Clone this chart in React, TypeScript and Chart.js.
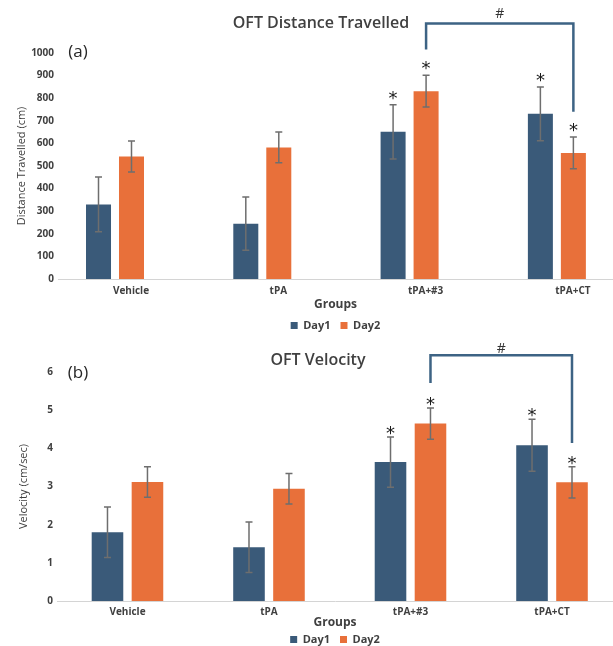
import React, { useEffect, useRef } from "react";
import { Chart, registerables } from "chart.js";

Chart.register(...registerables);

// ---------- data ----------
const groups = ["Vehicle", "tPA", "tPA+#3", "tPA+CT"];
const seriesNames = ["Day1", "Day2"];

const distanceDay1 = [330, 245, 651, 731];
const distanceDay2 = [542, 582, 831, 558];
const distanceErrDay1 = [121, 118, 120, 119];
const distanceErrDay2 = [69, 68, 70, 70];

const velocityDay1 = [1.8, 1.41, 3.64, 4.08];
const velocityDay2 = [3.12, 2.94, 4.65, 3.11];
const velocityErrDay1 = [0.66, 0.66, 0.66, 0.68];
const velocityErrDay2 = [0.4, 0.4, 0.41, 0.41];

// significance markers (*) per series
const starsDay1 = [false, false, true, true];
const starsDay2 = [false, false, true, true];

// "#" bracket between tPA+#3 Day2 and tPA+CT Day2 (in data units)
const distanceBracket = { from: 2, to: 3, top: 1130, leftEnd: 1015, rightEnd: 740, label: "#" };
const velocityBracket = { from: 2, to: 3, top: 6.44, leftEnd: 5.71, rightEnd: 4.14, label: "#" };

// ---------- styles ----------
const DAY1 = "#3A5A79";
const DAY2 = "#E8703A";
const ERR = "#6E6E6E";
const BRACKET = "#3D6384";
const FONT = "'Open Sans', 'DejaVu Sans', sans-serif";

type Bracket = typeof distanceBracket;

type PanelProps = {
  top: number;
  height: number;
  title: string;
  titleX: number;
  titleY: number;
  tag: string;
  tagX: number;
  tagY: number;
  yTitle: string;
  yMax: number;
  yStep: number;
  day1: number[];
  day2: number[];
  err1: number[];
  err2: number[];
  bracket: Bracket;
  padTop: number;
  yAxisWidth: number;
  xAxisHeight: number;
  xMin: number;
  xMax: number;
  catPct: number;
  barPct: number;
  tickPad: number;
  labelOffset: number;
  groupsPadBottom: number;
  yTitlePad: number;
  starGap: number;
  hashGap: number;
};

function Panel(p: PanelProps) {
  const ref = useRef<HTMLCanvasElement | null>(null);

  useEffect(() => {
    if (!ref.current) return;

    const annot = {
      id: "annot",
      afterDatasetsDraw(chart: any) {
        const ctx = chart.ctx as CanvasRenderingContext2D;
        const ys = chart.scales.y;
        const vals = [p.day1, p.day2];
        const errs = [p.err1, p.err2];
        const stars = [starsDay1, starsDay2];
        ctx.save();
        for (let d = 0; d < 2; d++) {
          const meta = chart.getDatasetMeta(d);
          meta.data.forEach((el: any, i: number) => {
            const v = vals[d][i];
            const e = errs[d][i];
            const x = el.x;
            const yT = ys.getPixelForValue(v + e);
            const yB = ys.getPixelForValue(v - e);
            ctx.strokeStyle = ERR;
            ctx.lineWidth = 1.5;
            ctx.beginPath();
            ctx.moveTo(x, yT);
            ctx.lineTo(x, yB);
            ctx.moveTo(x - 3.5, yT);
            ctx.lineTo(x + 3.5, yT);
            ctx.moveTo(x - 3.5, yB);
            ctx.lineTo(x + 3.5, yB);
            ctx.stroke();
            if (stars[d][i]) {
              ctx.fillStyle = "#1a1a1a";
              ctx.font = "18px 'DejaVu Sans', sans-serif";
              ctx.textAlign = "center";
              ctx.textBaseline = "alphabetic";
              ctx.fillText("*", x, yT - p.starGap + 10);
            }
          });
        }
        // bracket
        const b = p.bracket;
        const m1 = chart.getDatasetMeta(1);
        const x1 = m1.data[b.from].x;
        const x2 = m1.data[b.to].x;
        const yTop = ys.getPixelForValue(b.top);
        const yL = ys.getPixelForValue(b.leftEnd);
        const yR = ys.getPixelForValue(b.rightEnd);
        ctx.strokeStyle = BRACKET;
        ctx.lineWidth = 2.5;
        ctx.lineJoin = "miter";
        ctx.beginPath();
        ctx.moveTo(x1, yL);
        ctx.lineTo(x1, yTop);
        ctx.lineTo(x2, yTop);
        ctx.lineTo(x2, yR);
        ctx.stroke();
        ctx.fillStyle = "#333333";
        ctx.font = `14px ${FONT}`;
        ctx.textAlign = "center";
        ctx.textBaseline = "middle";
        ctx.fillText(b.label, (x1 + x2) / 2, yTop - p.hashGap);
        ctx.restore();
      },
      afterDraw(chart: any) {
        const ctx = chart.ctx as CanvasRenderingContext2D;
        ctx.save();
        ctx.fillStyle = "#404040";
        ctx.font = `600 16px ${FONT}`;
        ctx.textAlign = "center";
        ctx.textBaseline = "middle";
        ctx.fillText(p.title, p.titleX, p.titleY);
        ctx.fillStyle = "#262626";
        ctx.font = `17px ${FONT}`;
        ctx.fillText(p.tag, p.tagX, p.tagY);
        ctx.restore();
      },
    };

    const forceRange = (s: any) => {
      s.min = p.xMin;
      s.max = p.xMax;
    };

    const chart = new Chart(ref.current, {
      type: "bar",
      data: {
        datasets: [
          {
            label: seriesNames[0],
            data: p.day1.map((v, i) => ({ x: i, y: v })),
            backgroundColor: DAY1,
            borderWidth: 0,
            categoryPercentage: p.catPct,
            barPercentage: p.barPct,
          },
          {
            label: seriesNames[1],
            data: p.day2.map((v, i) => ({ x: i, y: v })),
            backgroundColor: DAY2,
            borderWidth: 0,
            categoryPercentage: p.catPct,
            barPercentage: p.barPct,
          },
        ],
      } as any,
      options: {
        responsive: false,
        animation: false,
        events: [],
        layout: { padding: { top: p.padTop, left: 0, right: 0, bottom: 0 } },
        plugins: {
          legend: {
            position: "bottom",
            fullSize: false,
            labels: {
              boxWidth: 7,
              boxHeight: 7,
              padding: 10,
              color: "#404040",
              font: { family: FONT, size: 11, weight: "bold" },
            },
          },
          title: { display: false },
          tooltip: { enabled: false },
        },
        scales: {
          x: {
            type: "linear",
            min: p.xMin,
            max: p.xMax,
            bounds: "data",
            offset: false,
            grid: { display: false, drawTicks: false, offset: false },
            border: { display: true, color: "#D4D4D4", width: 1 },
            afterDataLimits: forceRange,
            afterBuildTicks: (s: any) => {
              s.ticks = groups.map((_, i) => ({ value: i }));
              forceRange(s);
            },
            afterFit: (s: any) => {
              s.height = p.xAxisHeight;
            },
            ticks: {
              autoSkip: false,
              maxRotation: 0,
              padding: p.tickPad,
              labelOffset: p.labelOffset,
              color: "#404040",
              font: { family: FONT, size: 10, weight: "bold" },
              callback: (v: any) => groups[Math.round(Number(v))] ?? "",
            },
            title: {
              display: true,
              text: "Groups",
              color: "#404040",
              font: { family: FONT, size: 12, weight: "bold" },
              padding: { top: 0, bottom: p.groupsPadBottom },
            },
          },
          y: {
            min: 0,
            max: p.yMax,
            grid: { display: false, drawTicks: false },
            border: { display: false },
            afterFit: (s: any) => {
              s.width = p.yAxisWidth;
            },
            ticks: {
              stepSize: p.yStep,
              padding: 4,
              color: "#404040",
              font: { family: FONT, size: 10, weight: "bold" },
              callback: (v: any) => String(v),
            },
            title: {
              display: true,
              text: p.yTitle,
              color: "#404040",
              font: { family: FONT, size: 11 },
              padding: { top: p.yTitlePad, bottom: 0 },
            },
          },
        },
      } as any,
      plugins: [annot],
    });
    return () => chart.destroy();
  }, []);

  return (
    <canvas
      ref={ref}
      width={613}
      height={p.height}
      style={{ position: "absolute", left: 0, top: p.top, display: "block" }}
    />
  );
}

export default function App() {
  return (
    <div
      style={{
        position: "fixed",
        left: 0,
        top: 0,
        width: 613,
        height: 646,
        overflow: "hidden",
        background: "#ffffff",
      }}
    >
      <Panel
        top={0}
        height={341}
        title="OFT Distance Travelled"
        titleX={321}
        titleY={23}
        tag="(a)"
        tagX={78}
        tagY={52}
        yTitle="Distance Travelled (cm)"
        yMax={1000}
        yStep={100}
        day1={distanceDay1}
        day2={distanceDay2}
        err1={distanceErrDay1}
        err2={distanceErrDay2}
        bracket={distanceBracket}
        padTop={53}
        yAxisWidth={58}
        xAxisHeight={31}
        xMin={-0.387}
        xMax={3.381}
        catPct={0.448}
        barPct={0.758}
        tickPad={6}
        labelOffset={16}
        groupsPadBottom={-2}
        yTitlePad={15}
        starGap={11}
        hashGap={10}
      />
      <Panel
        top={330}
        height={325}
        title="OFT Velocity"
        titleX={318}
        titleY={30}
        tag="(b)"
        tagX={78}
        tagY={43}
        yTitle="Velocity (cm/sec)"
        yMax={6}
        yStep={1}
        day1={velocityDay1}
        day2={velocityDay2}
        err1={velocityErrDay1}
        err2={velocityErrDay2}
        bracket={velocityBracket}
        padTop={42}
        yAxisWidth={57}
        xAxisHeight={23}
        xMin={-0.498}
        xMax={3.431}
        catPct={0.565}
        barPct={0.79}
        tickPad={5}
        labelOffset={0}
        groupsPadBottom={-6}
        yTitlePad={17}
        starGap={8}
        hashGap={6}
      />
    </div>
  );
}
